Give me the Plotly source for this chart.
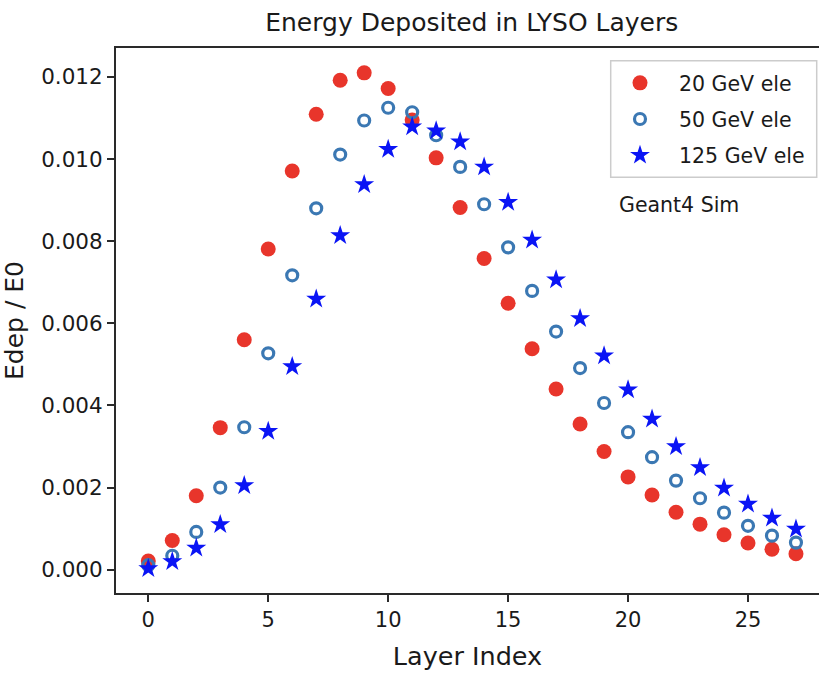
import plotly.graph_objects as go

layers = list(range(28))

edep_20 = [0.00021, 0.00071, 0.00180, 0.00346, 0.00560, 0.00781, 0.00971, 0.01109,
           0.01192, 0.01210, 0.01172, 0.01095, 0.01003, 0.00882, 0.00758, 0.00649,
           0.00538, 0.00440, 0.00355, 0.00288, 0.00226, 0.00182, 0.00140, 0.00111,
           0.00085, 0.00065, 0.00050, 0.00039]

edep_50 = [0.00011, 0.00034, 0.00092, 0.00200, 0.00347, 0.00527, 0.00717, 0.00880,
           0.01011, 0.01094, 0.01125, 0.01114, 0.01058, 0.00981, 0.00890, 0.00785,
           0.00679, 0.00580, 0.00491, 0.00406, 0.00335, 0.00274, 0.00217, 0.00174,
           0.00139, 0.00107, 0.00083, 0.00066]

edep_125 = [0.00003, 0.00020, 0.00053, 0.00110, 0.00205, 0.00337, 0.00495, 0.00659,
            0.00814, 0.00938, 0.01024, 0.01079, 0.01069, 0.01042, 0.00981, 0.00895,
            0.00803, 0.00706, 0.00612, 0.00521, 0.00438, 0.00367, 0.00300, 0.00249,
            0.00199, 0.00160, 0.00126, 0.00099]

series_names = ["20 GeV ele", "50 GeV ele", "125 GeV ele"]
x_ticks = [0, 5, 10, 15, 20, 25]
y_ticks = [0.000, 0.002, 0.004, 0.006, 0.008, 0.010, 0.012]

FONT = "DejaVu Sans"
TXT = "#1a1a1a"

# figure geometry (pixels) used to place legend frame in paper coords
W, H = 819, 674
ML, MR, MT, MB = 116, 0, 48, 81
PW, PH = W - ML - MR, H - MT - MB


def px_x(p):
    return (p - ML) / PW


def px_y(p):
    return (H - MB - p) / PH


fig = go.Figure()
fig.add_trace(go.Scatter(
    x=layers, y=edep_20, mode="markers", name=series_names[0], legendgroup="a",
    marker=dict(symbol="circle", size=15, color="#e8352b", line=dict(width=0)),
))
fig.add_trace(go.Scatter(
    x=layers, y=edep_50, mode="markers", name=series_names[1], legendgroup="b",
    marker=dict(symbol="circle-open", size=11, color="#3b78b3", line=dict(width=3.2, color="#3b78b3")),
))
fig.add_trace(go.Scatter(
    x=layers, y=edep_125, mode="markers", name=series_names[2], legendgroup="c",
    marker=dict(symbol="star", size=15, color="#0a14f5", line=dict(width=0)),
))

fig.update_layout(
    width=W, height=H,
    margin=dict(l=ML, r=MR, t=MT, b=MB),
    paper_bgcolor="white", plot_bgcolor="white",
    font=dict(family=FONT, color=TXT),
    title=dict(text="Energy Deposited in LYSO Layers", font=dict(size=25, family=FONT, color=TXT),
               x=0.506, xref="paper", xanchor="center", y=1 - 22 / H, yref="container", yanchor="middle"),
    showlegend=True,
    legend=dict(x=px_x(601), y=px_y(63), xanchor="left", yanchor="top",
                bgcolor="rgba(0,0,0,0)", borderwidth=0,
                font=dict(size=20.5, family=FONT, color=TXT),
                traceorder="grouped", tracegroupgap=6.5, itemwidth=68),
    shapes=[dict(type="rect", xref="paper", yref="paper",
                 x0=px_x(610.7), x1=px_x(816.7), y0=px_y(177.3), y1=px_y(60.7),
                 line=dict(color="#cccccc", width=1.5), fillcolor="rgba(255,255,255,0.8)",
                 layer="below")],
    annotations=[dict(text="Geant4 Sim", x=px_x(616.5), y=px_y(205), xref="paper", yref="paper",
                      xanchor="left", yanchor="middle", showarrow=False,
                      font=dict(size=20.5, family=FONT, color=TXT))],
)

fig.update_xaxes(
    range=[-1.346, 27.96], tickvals=x_ticks, ticktext=[str(v) for v in x_ticks],
    showgrid=False, zeroline=False, showline=True, linecolor="#2a2a2a", linewidth=2,
    mirror=True, ticks="outside", ticklen=7, tickwidth=1.5, tickcolor="#2a2a2a",
    tickfont=dict(size=21, family=FONT, color=TXT),
    title=dict(text="Layer Index", font=dict(size=25.5, family=FONT, color=TXT), standoff=16),
)
fig.update_yaxes(
    range=[-0.000567, 0.012705], tickvals=y_ticks, ticktext=[f"{v:.3f}" for v in y_ticks],
    showgrid=False, zeroline=False, showline=True, linecolor="#2a2a2a", linewidth=2,
    mirror=False, ticks="outside", ticklen=7, tickwidth=1.5, tickcolor="#2a2a2a",
    tickfont=dict(size=21.5, family=FONT, color=TXT),
    title=dict(text="Edep / E0", font=dict(size=25, family=FONT, color=TXT), standoff=13),
)

fig.write_html("out.html")
